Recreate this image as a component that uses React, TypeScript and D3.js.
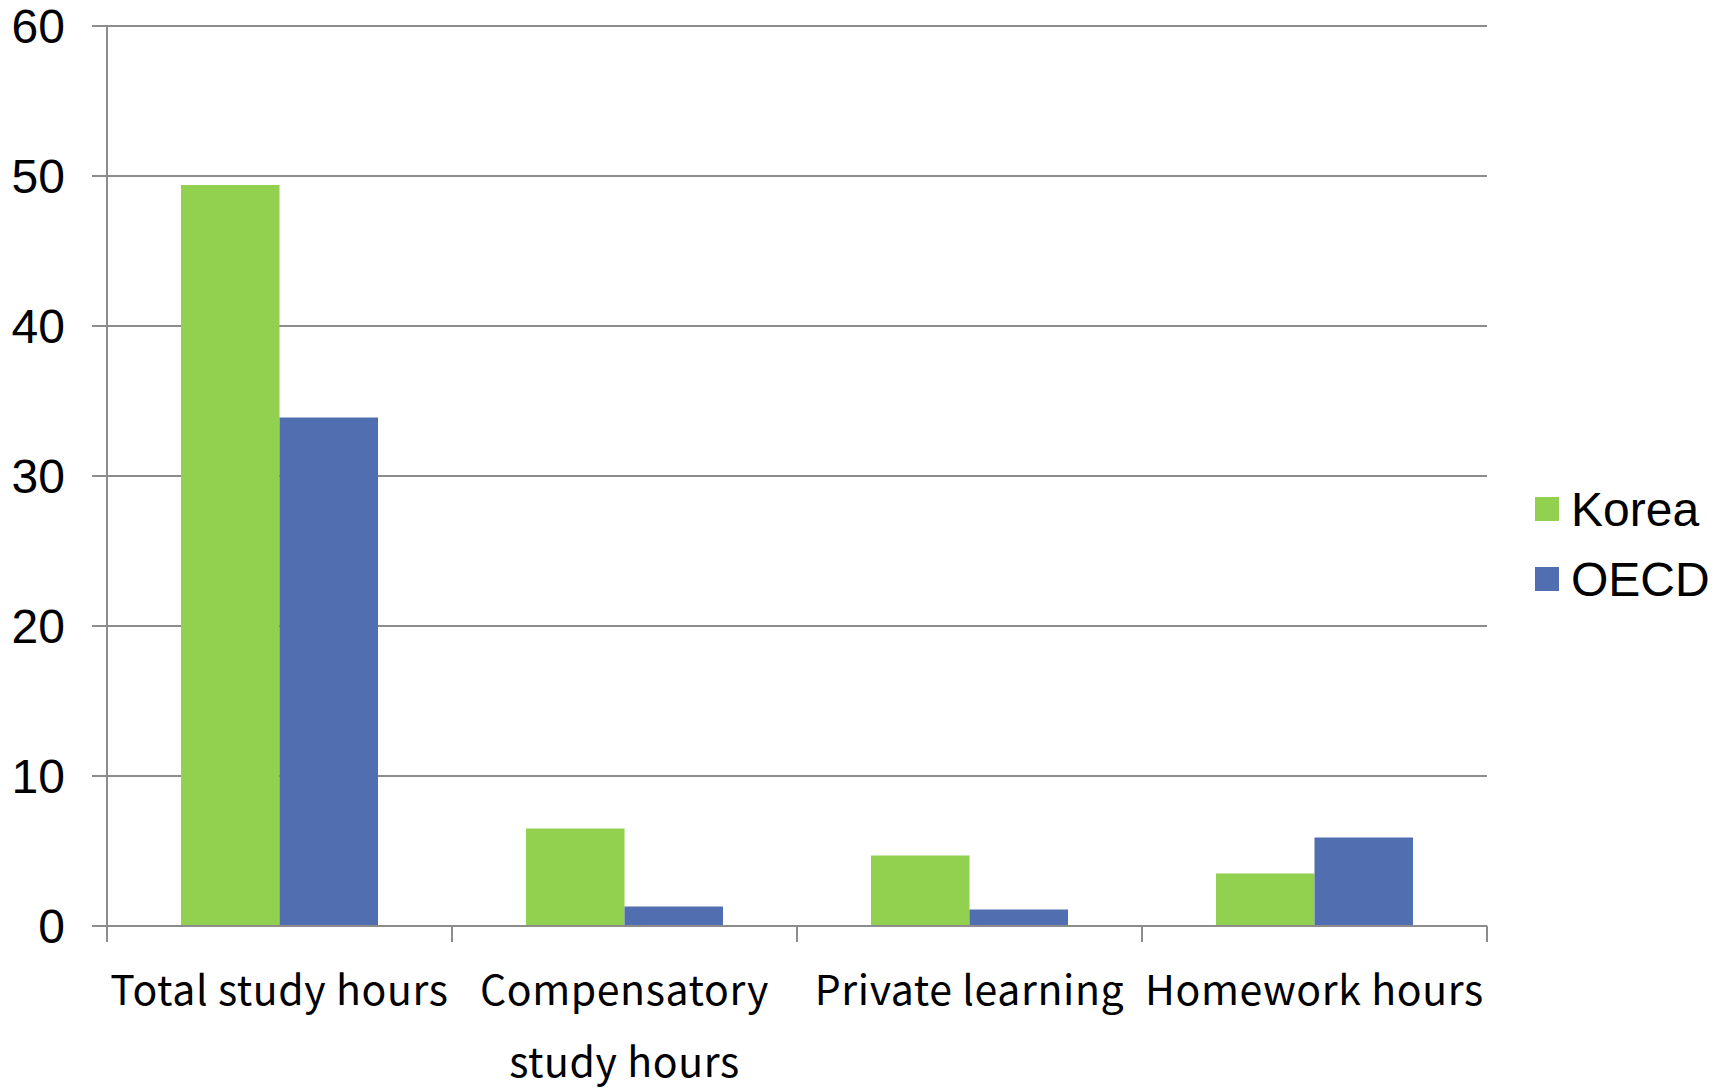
import React from "react";
import * as d3 from "d3";

const categories = [
  ["Total study hours"],
  ["Compensatory", "study hours"],
  ["Private learning"],
  ["Homework hours"],
];
const seriesNames = ["Korea", "OECD"];
const korea = [49.4, 6.5, 4.7, 3.5];
const oecd = [33.9, 1.3, 1.1, 5.9];
const yTicks = [0, 10, 20, 30, 40, 50, 60];
const colors = ["#92D050", "#516EB0"];

export default function App() {
  const width = 1729, height = 1088;
  const margin = { top: 26, left: 107, right: 242, bottom: 162 };
  const w = width - margin.left - margin.right;
  const h = height - margin.top - margin.bottom;

  const x0 = d3.scaleBand<number>().domain(d3.range(categories.length)).range([0, w]).paddingInner(0).paddingOuter(0);
  const groupW = x0.bandwidth() * 0.571;
  const x1 = d3.scaleBand<number>().domain([0, 1]).range([0, groupW]);
  const y = d3.scaleLinear().domain([0, 60]).range([h, 0]);
  const values = [korea, oecd];
  const grid = "#8c8c8c";

  return (
    <svg width={width} height={height} style={{ position: "absolute", left: 0, top: 0, background: "#fff" }}>
      <g transform={`translate(${margin.left},${margin.top})`}>
        {yTicks.map(t => (
          <g key={t}>
            <line x1={-15} x2={w} y1={y(t)} y2={y(t)} stroke={grid} strokeWidth={2} />
            <text x={-42} y={y(t)} dy="0.36em" textAnchor="end" fontFamily="Liberation Sans, Arial" fontSize={48}>{t}</text>
          </g>
        ))}
        <line x1={0} x2={0} y1={0} y2={h + 16} stroke={grid} strokeWidth={2} />
        {d3.range(categories.length + 1).map(i => (
          <line key={i} x1={i * x0.step()} x2={i * x0.step()} y1={h} y2={h + 16} stroke={grid} strokeWidth={2} />
        ))}
        {categories.map((c, i) => {
          const gx = x0(i)! + (x0.bandwidth() - groupW) / 2;
          return (
            <g key={i}>
              {values.map((vals, s) => (
                <rect key={s} x={gx + x1(s)!} y={y(vals[i])} width={x1.bandwidth()} height={h - y(vals[i])} fill={colors[s]} />
              ))}
              {c.map((line, li) => (
                <text key={li} x={x0(i)! + x0.bandwidth() / 2} y={h + 79 + li * 72} textAnchor="middle"
                  fontFamily="Noto Sans CJK KR, Noto Sans" fontSize={41} letterSpacing={0.6}>{line}</text>
              ))}
            </g>
          );
        })}
        <line x1={0} x2={w} y1={h} y2={h} stroke={grid} strokeWidth={2} />
      </g>
      {seriesNames.map((s, i) => (
        <g key={s} transform={`translate(1535,${497 + i * 70})`}>
          <rect width={24} height={24} fill={colors[i]} />
          <text x={36} y={12} dy="0.36em" fontFamily="Liberation Sans, Arial" fontSize={48}>{s}</text>
        </g>
      ))}
    </svg>
  );
}
